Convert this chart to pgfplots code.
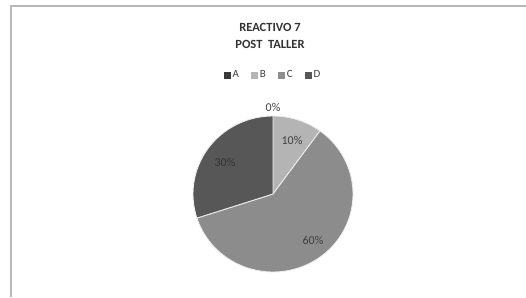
\documentclass[border=0pt]{standalone}
\usepackage{pgfplots}
\pgfplotsset{compat=1.18}
\usepackage{fontspec}
\setmainfont{Carlito}
\definecolor{sliceA}{HTML}{3A3A3A}
\definecolor{sliceB}{HTML}{B4B4B4}
\definecolor{sliceC}{HTML}{8C8C8C}
\definecolor{sliceD}{HTML}{575757}
\definecolor{frame}{HTML}{B8B8B8}
\begin{document}
\begin{tikzpicture}
\begin{axis}[
  scale only axis, width=526pt, height=297pt,
  xmin=0, xmax=526, ymin=0, ymax=297, y dir=reverse,
  hide axis, clip=false,
  legend style={at={(axis cs:273,75)}, anchor=center, draw=none, fill=none,
    legend columns=4, font=\fontsize{11}{12}\selectfont, text=black!75,
    /tikz/every even column/.append style={column sep=10pt},
    /tikz/every odd column/.append style={column sep=0pt}},
  legend image code/.code={\draw[#1, draw=none] (0pt,-3.5pt) rectangle (7pt,3.5pt);},
]
% frame
\draw[frame, line width=1.4pt] (axis cs:11,297) -- (axis cs:11,6) -- (axis cs:526,6);
% A = 0%: no wedge
\addlegendimage{fill=sliceA}
\addlegendentry{A}
% B = 10%: 90 -> 54
\addplot[fill=sliceB, draw=white!85!gray, line width=0.9pt, domain=54:90, samples=30]
  ({273+80*cos(x)},{194-78*sin(x)}) -- (axis cs:273,194) -- cycle;
\addlegendentry{B}
% C = 60%: 54 -> -162
\addplot[fill=sliceC, draw=white!85!gray, line width=0.9pt, domain=-162:54, samples=120]
  ({273+80*cos(x)},{194-78*sin(x)}) -- (axis cs:273,194) -- cycle;
\addlegendentry{C}
% D = 30%: -162 -> -270
\addplot[fill=sliceD, draw=white!85!gray, line width=0.9pt, domain=-270:-162, samples=60]
  ({273+80*cos(x)},{194-78*sin(x)}) -- (axis cs:273,194) -- cycle;
\addlegendentry{D}
% titles
\node[font=\bfseries\fontsize{12.5}{17}\selectfont, text=black!80, align=center] at (axis cs:270,36) {REACTIVO 7\\POST\ \ TALLER};
% data labels
\node[font=\fontsize{12}{13}\selectfont, text=black!75] at (axis cs:273,107) {0\%};
\node[font=\fontsize{12}{13}\selectfont, text=black!75] at (axis cs:292,140) {10\%};
\node[font=\fontsize{12}{13}\selectfont, text=black!75] at (axis cs:313,240) {60\%};
\node[font=\fontsize{12}{13}\selectfont, text=black!80] at (axis cs:225,162) {30\%};
\end{axis}
\pgfresetboundingbox
\path (0,0) rectangle (526pt,297pt);
\end{tikzpicture}
\end{document}
